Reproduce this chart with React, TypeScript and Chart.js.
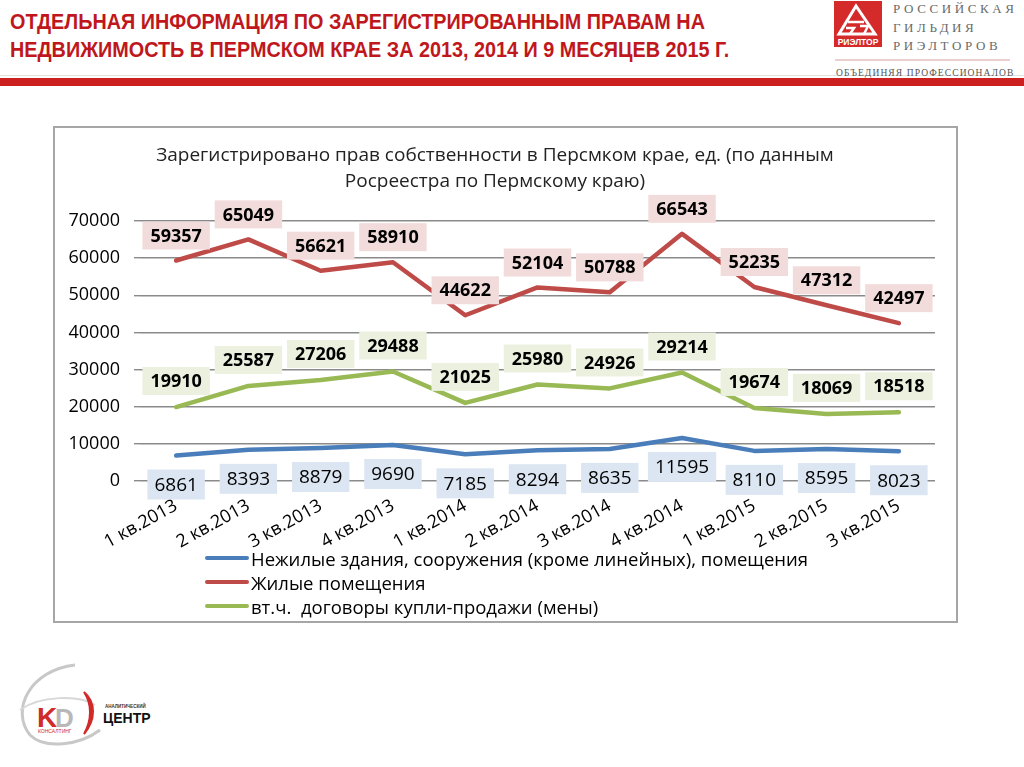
import React, { useEffect, useRef } from 'react';
import { Chart, registerables } from 'chart.js';

Chart.register(...registerables);

const categories = ['1 кв.2013', '2 кв.2013', '3 кв.2013', '4 кв.2013', '1 кв.2014', '2 кв.2014', '3 кв.2014', '4 кв.2014', '1 кв.2015', '2 кв.2015', '3 кв.2015'];
const nonResidential = [6861, 8393, 8879, 9690, 7185, 8294, 8635, 11595, 8110, 8595, 8023];
const residential = [59357, 65049, 56621, 58910, 44622, 52104, 50788, 66543, 52235, 47312, 42497];
const salesContracts = [19910, 25587, 27206, 29488, 21025, 25980, 24926, 29214, 19674, 18069, 18518];
const seriesNames = [
  'Нежилые здания, сооружения (кроме линейных), помещения',
  'Жилые помещения',
  'вт.ч.  договоры купли-продажи (мены)',
];
const yMin = 0;
const yMax = 70000;
const yStep = 10000;
const chartTitle = ['Зарегистрировано прав собственности в Персмком крае, ед. (по данным', 'Росреестра по Пермскому краю)'];

const COLORS = ['#4a7ebb', '#be4b48', '#98b954'];
const LABEL_BG = ['#dce6f2', '#f2dcdb', '#ebf1de'];
const FONT = '"Open Sans", "Noto Sans", sans-serif';

const boxLabelPlugin = {
  id: 'boxLabels',
  afterDatasetsDraw(chart: any) {
    const ctx = chart.ctx;
    chart.data.datasets.forEach((ds: any, i: number) => {
      const meta = chart.getDatasetMeta(i);
      const o = ds.boxLabel;
      if (!o) return;
      ctx.save();
      ctx.font = `${o.bold ? 'bold ' : ''}${o.size}px ${FONT}`;
      ctx.textAlign = 'center';
      ctx.textBaseline = 'middle';
      meta.data.forEach((pt: any, j: number) => {
        const text = String(ds.data[j]);
        const w = ctx.measureText(text).width + 2 * o.padX;
        const h = o.height;
        const cx = pt.x;
        const cy = pt.y + o.dy;
        ctx.fillStyle = o.bg;
        ctx.fillRect(cx - w / 2, cy - h / 2, w, h);
        ctx.fillStyle = '#000';
        ctx.fillText(text, cx, cy + 1);
      });
      ctx.restore();
    });
  },
};

function LineChart() {
  const ref = useRef<HTMLCanvasElement | null>(null);
  useEffect(() => {
    if (!ref.current) return;
    const mk = (data: number[], idx: number, label: any) => ({
      label: seriesNames[idx],
      data,
      borderColor: COLORS[idx],
      backgroundColor: COLORS[idx],
      borderWidth: 4.5,
      pointRadius: 0,
      tension: 0,
      borderCapStyle: 'round',
      borderJoinStyle: 'round',
      boxLabel: { bg: LABEL_BG[idx], ...label },
    });
    const chart = new Chart(ref.current, {
      type: 'line',
      data: {
        labels: categories,
        datasets: [
          mk(nonResidential, 0, { bold: false, size: 19, padX: 7, height: 30, dy: 29 }),
          mk(residential, 1, { bold: true, size: 18, padX: 8, height: 28, dy: -25 }),
          mk(salesContracts, 2, { bold: true, size: 18, padX: 8, height: 28, dy: -26 }),
        ] as any,
      },
      options: {
        animation: false,
        responsive: false,
        layout: { padding: { left: 0, right: 21, top: 0, bottom: 69 } },
        plugins: {
          legend: { display: false },
          tooltip: { enabled: false },
          title: {
            display: true,
            text: chartTitle,
            color: '#222',
            font: { family: FONT, size: 19, weight: 'normal', lineHeight: '26px' as any },
            padding: { top: 15, bottom: 26 },
          },
        },
        scales: {
          x: {
            offset: true,
            grid: { display: false },
            border: { display: false },
            ticks: {
              color: '#000',
              font: { family: FONT, size: 18 },
              minRotation: 29,
              maxRotation: 29,
              autoSkip: false,
              padding: 6,
            },
            afterFit: (s: any) => { s.height = 70; },
          },
          y: {
            min: yMin,
            max: yMax,
            border: { display: false },
            grid: { color: '#8a8a8a', lineWidth: 1.4, tickLength: 6 },
            ticks: {
              stepSize: yStep,
              color: '#000',
              padding: 14,
              font: { family: FONT, size: 18 },
              callback: (v: any) => String(v),
            },
            afterFit: (s: any) => { s.width = 85; },
          },
        },
      },
      plugins: [boxLabelPlugin],
    } as any);
    return () => chart.destroy();
  }, []);
  return <canvas ref={ref} width={901} height={492} style={{ display: 'block' }} />;
}

function TopLogo() {
  return (
    <svg width={204} height={90} style={{ position: 'absolute', left: 820, top: 0 }}>
      <rect x={14} y={1} width={48} height={46} fill="#d42a2a" />
      <path d="M36 6 L19 34 L55 34 Z" fill="none" stroke="#fff" strokeWidth={3} />
      <path d="M28 22 L44 22 M26 28 L34 28 L30 34 M40 26 L48 26 L44 34" fill="none" stroke="#fff" strokeWidth={2.5} />
      <text x={38} y={45} fontFamily="Liberation Sans, sans-serif" fontWeight="bold" fontSize={8.5} fill="#fff" textAnchor="middle">РИЭЛТОР</text>
      <text x={73} y={13} fontFamily="Liberation Serif, serif" fontSize={13} letterSpacing={3.6} fill="#6a6a6a">РОССИЙСКАЯ</text>
      <text x={73} y={32} fontFamily="Liberation Serif, serif" fontSize={13} letterSpacing={3.6} fill="#6a6a6a">ГИЛЬДИЯ</text>
      <text x={73} y={50} fontFamily="Liberation Serif, serif" fontSize={13} letterSpacing={3.6} fill="#6a6a6a">РИЭЛТОРОВ</text>
      <line x1={15} y1={60} x2={190} y2={60} stroke="#d8a0a0" strokeWidth={1} />
      <text x={16} y={76} fontFamily="Liberation Serif, serif" fontSize={9.5} letterSpacing={1.1} fill="#555">ОБЪЕДИНЯЯ ПРОФЕССИОНАЛОВ</text>
    </svg>
  );
}

function BottomLogo() {
  return (
    <svg width={200} height={117} style={{ position: 'absolute', left: 0, top: 650 }}>
      <path d="M75 15 C 30 20, 10 60, 30 85 C 45 100, 80 95, 100 80" fill="none" stroke="#c8c8c8" strokeWidth={3} />
      <path d="M20 60 C 40 45, 80 45, 95 55" fill="none" stroke="#d8d8d8" strokeWidth={2} />
      <path d="M84 42 C 96 52, 96 70, 84 84 C 92 70, 92 54, 84 42 Z" fill="#d02a2a" stroke="#d02a2a" strokeWidth={2} />
      <text x={37} y={77} fontFamily="Liberation Sans, sans-serif" fontWeight="bold" fontSize={28} fill="#d02a2a">K</text>
      <text x={55} y={77} fontFamily="Liberation Sans, sans-serif" fontWeight="bold" fontSize={26} fill="#b8b8b8">D</text>
      <text x={38} y={83} fontFamily="Liberation Sans, sans-serif" fontSize={5} fill="#d02a2a">КОНСАЛТИНГ</text>
      <text x={105} y={58} fontFamily="Liberation Sans, sans-serif" fontWeight="bold" fontSize={4.5} fill="#333">АНАЛИТИЧЕСКИЙ</text>
      <text x={103} y={73} fontFamily="Liberation Sans, sans-serif" fontWeight="bold" fontSize={14} fill="#111">ЦЕНТР</text>
    </svg>
  );
}

export default function App() {
  const legendRows = [558, 582, 606];
  return (
    <div style={{ position: 'absolute', left: 0, top: 0, width: 1024, height: 767, background: '#fff', overflow: 'hidden' }}>
      <div style={{ position: 'absolute', left: 10, top: 8, fontFamily: '"Liberation Sans Narrow", sans-serif', fontWeight: 'bold', fontSize: 22, lineHeight: '28px', color: '#c0171c', whiteSpace: 'nowrap', transform: 'scaleX(0.9)', transformOrigin: 'left top' }}>
        <div>ОТДЕЛЬНАЯ ИНФОРМАЦИЯ ПО ЗАРЕГИСТРИРОВАННЫМ ПРАВАМ НА</div>
        <div>НЕДВИЖИМОСТЬ В ПЕРМСКОМ КРАЕ ЗА 2013, 2014 И 9 МЕСЯЦЕВ 2015 Г.</div>
      </div>
      <div style={{ position: 'absolute', left: 0, top: 75, width: 1024, height: 1, background: '#e2e2e2' }} />
      <div style={{ position: 'absolute', left: 0, top: 78, width: 1024, height: 8, background: '#cc2020' }} />
      <TopLogo />
      <div style={{ position: 'absolute', left: 53, top: 126, width: 905, height: 497, border: '2px solid #a6a6a6', boxSizing: 'border-box' }}>
        <LineChart />
      </div>
      {seriesNames.map((name, i) => (
        <div key={name} style={{ position: 'absolute', left: 205, top: legendRows[i] - 13, height: 26, display: 'flex', alignItems: 'center', whiteSpace: 'pre' }}>
          <div style={{ width: 44, height: 4, borderRadius: 2, background: COLORS[i], marginRight: 2 }} />
          <span style={{ fontFamily: FONT, fontSize: 18.5, color: '#000' }}>{name}</span>
        </div>
      ))}
      <BottomLogo />
    </div>
  );
}
